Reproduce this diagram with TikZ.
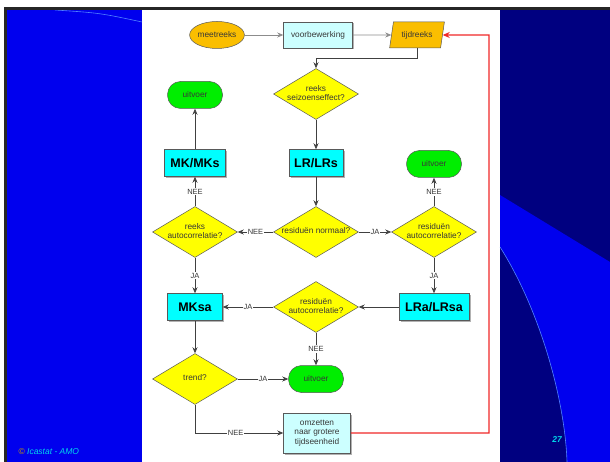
\documentclass[tikz,border=0pt]{standalone}
\usepackage{fontspec}
\setmainfont{Liberation Sans}
\usetikzlibrary{positioning}
\usetikzlibrary{arrows.meta}
\usetikzlibrary{shapes.geometric}
\usetikzlibrary{shadows}
\definecolor{slideblue}{RGB}{0,0,238}
\definecolor{slidenavy}{RGB}{0,0,128}
\definecolor{slideline}{RGB}{80,130,255}
\definecolor{slidecyan}{RGB}{0,215,235}
\definecolor{boxorange}{RGB}{250,190,0}
\definecolor{boxcyan}{RGB}{0,255,255}
\definecolor{boxpale}{RGB}{204,255,255}
\definecolor{boxgreen}{RGB}{0,238,0}
\definecolor{boxyellow}{RGB}{255,255,0}
\definecolor{linered}{RGB}{240,40,40}
\definecolor{textgray}{RGB}{55,55,55}
\newcommand{\dtext}[1]{\makebox[0pt]{\begin{tabular}{@{}c@{}}#1\end{tabular}}}
\tikzset{
        flownode/.style={align=center, font=\fontsize{8.3}{9.7}\selectfont, text=textgray, draw=black!65, line width=0.5pt},
        boxshadow/.style={drop shadow={shadow xshift=1.5pt, shadow yshift=-1.5pt, fill=black, opacity=0.3}},
        % Input and series
        node_input/.style={flownode, ellipse, fill=boxorange, minimum width=54pt, minimum height=27pt, inner sep=0pt},
        node_series/.style={flownode, trapezium, trapezium left angle=78, trapezium right angle=102, trapezium stretches=true, fill=boxorange, minimum width=55pt, minimum height=26pt},
        % Processing steps
        node_step/.style={flownode, rectangle, fill=boxpale, boxshadow, minimum height=26pt},
        % Models
        node_model/.style={flownode, rectangle, fill=boxcyan, boxshadow, text=black, font=\bfseries\fontsize{12.5}{14}\selectfont, minimum height=27pt},
        % Questions
        node_test/.style={flownode, diamond, fill=boxyellow, inner sep=0pt, minimum width=85pt, minimum height=51pt},
        % Output
        node_out/.style={flownode, rectangle, rounded corners=13pt, fill=boxgreen, minimum width=55pt, minimum height=27pt},
        % Connectors
        flow/.style={draw=black!75, line width=0.6pt, -{Stealth[length=6pt, width=5pt]}},
        answer/.style={fill=white, inner sep=1pt, text=textgray, font=\fontsize{7.5}{8}\selectfont}
}
\begin{document}
\begin{tikzpicture}[x=1pt, y=-1pt]
            \useasboundingbox (0,0) rectangle (610,462);
            % slide
            \fill[white] (0,0) rectangle (610,462);
            \fill[slideblue] (7,10) rectangle (142,462);
            \fill[slidenavy] (500,10) rectangle (610,462);
            \fill[slideblue] (500,195) -- (610,262) -- (610,462) -- (567,462)
                .. controls (565,400) and (540,310) .. (500,247) -- cycle;
            \draw[slideline, line width=0.6pt] (567,462) .. controls (565,400) and (540,310) .. (500,247);
            \draw[slideline, line width=0.6pt] (55,10) .. controls (100,13) .. (142,22);
            \draw[black!85, line width=2.5pt] (4,8.5) -- (610,8.5);
            \draw[black!85, line width=2.5pt] (5.5,7.5) -- (5.5,462);
            \node[anchor=west, font=\fontsize{8.5}{10}\selectfont] (copy) at (15,452)
                {\textcolor{boxorange!80!black}{©} \textcolor{slidecyan}{\textit{Icastat - AMO}}};
            \node[text=slidecyan, font=\bfseries\itshape\fontsize{8.5}{10}\selectfont] (page) at (557,440) {27};

            % flowchart
            \node[node_input] (meetreeks) at (217,35) {meetreeks};
            \node[node_step, minimum width=69pt] (voorbewerking) at (318,35) {voorbewerking};
            \node[node_series] (tijdreeks) at (417,35) {tijdreeks};
            \node[node_test] (seizoen) at (316,94) {\dtext{reeks\\seizoenseffect?}};
            \node[node_out] (uitvoerA) at (195,95) {uitvoer};
            \node[node_model, minimum width=61pt] (mkmks) at (195,163) {MK/MKs};
            \node[node_model, minimum width=54pt] (lrlrs) at (316,163) {LR/LRs};
            \node[node_out] (uitvoerB) at (434,164) {uitvoer};
            \node[node_test] (reeksauto) at (195,232) {\dtext{reeks\\autocorrelatie?}};
            \node[node_test] (normaal) at (316,232) {\dtext{residuën normaal?}};
            \node[node_test] (resautoA) at (434,232) {\dtext{residuën\\autocorrelatie?}};
            \node[node_model, minimum width=55pt] (mksa) at (195,307) {MKsa};
            \node[node_test] (resautoB) at (316,307) {\dtext{residuën\\autocorrelatie?}};
            \node[node_model, minimum width=70pt] (lralrsa) at (434,307) {LRa/LRsa};
            \node[node_test] (trend) at (195,379) {\dtext{trend?}};
            \node[node_out] (uitvoerC) at (316,379) {uitvoer};
            \node[node_step, minimum width=67pt, minimum height=40pt] (omzetten) at (317,433) {omzetten\\naar grotere\\tijdseenheid};
            \coordinate (terug) at (489,35);

            \draw[flow, draw=black!45] (meetreeks) -- (voorbewerking);
            \draw[flow, draw=black!45] (voorbewerking) -- (tijdreeks);
            \draw[flow] (tijdreeks.south) -- ++(0,10) -| (seizoen.north);
            \draw[flow] (seizoen) -- (lrlrs);
            \draw[flow] (lrlrs) -- (normaal);
            \draw[flow] (normaal) -- node[answer]{NEE} (reeksauto);
            \draw[flow] (normaal) -- node[answer]{JA} (resautoA);
            \draw[flow] (reeksauto) -- node[answer]{NEE} (mkmks);
            \draw[flow] (mkmks) -- (uitvoerA);
            \draw[flow] (resautoA) -- node[answer]{NEE} (uitvoerB);
            \draw[flow] (reeksauto) -- node[answer]{JA} (mksa);
            \draw[flow] (resautoA) -- node[answer]{JA} (lralrsa);
            \draw[flow] (lralrsa) -- (resautoB);
            \draw[flow] (resautoB) -- node[answer]{JA} (mksa);
            \draw[flow] (resautoB) -- node[answer]{NEE} (uitvoerC);
            \draw[flow] (mksa) -- (trend);
            \draw[flow] (trend) -- node[answer]{JA} (uitvoerC);
            \draw[flow] (trend) |- node[answer, pos=0.73]{NEE} (omzetten);
            \draw[flow, draw=linered, line width=1.2pt, -{Stealth[length=7pt, width=6pt]}] (omzetten) -| (terug) -- (tijdreeks);
\end{tikzpicture}
\end{document}
